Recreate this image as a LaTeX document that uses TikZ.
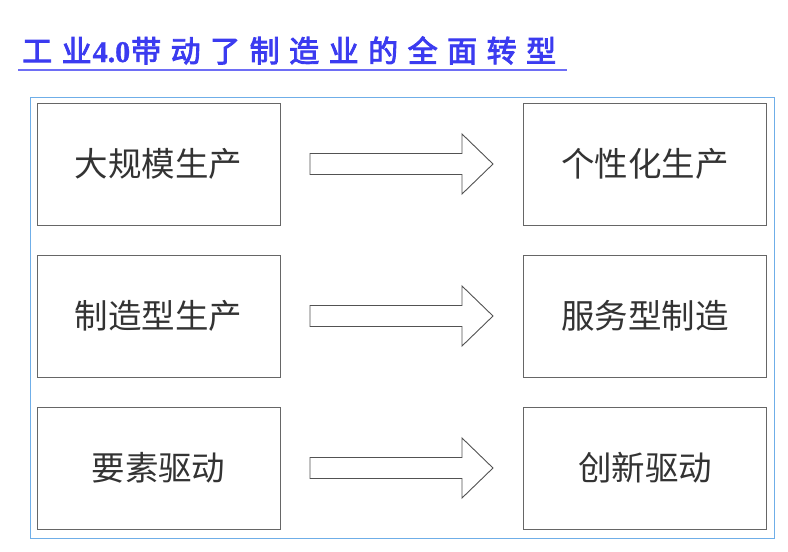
\documentclass[tikz,border=0pt]{standalone}
\usepackage{fontspec}
\newfontfamily\cjk{Noto Sans CJK SC}
\newfontfamily\cjkb[FakeBold=3]{Noto Sans CJK SC}
\newfontfamily\numb[FakeBold=1]{Liberation Serif}
\definecolor{titleblue}{HTML}{3B3BF0}
\definecolor{lineblue}{HTML}{6E6EF5}
\definecolor{frameblue}{HTML}{6FAEE8}
\definecolor{boxgray}{HTML}{666666}
\definecolor{txtgray}{HTML}{333333}
\newcommand{\tg}{\hspace{9.5pt}}
\begin{document}
\begin{tikzpicture}[x=1pt,y=-1pt,
  cbox/.style={draw=boxgray,line width=0.9pt,minimum width=243pt,minimum height=122pt,
    inner sep=0pt,font=\cjk\fontsize{33.5}{34}\selectfont,text=txtgray},
  barrow/.style={draw=boxgray!80!black,line width=0.9pt,fill=white,line join=miter}]
\useasboundingbox (0,0) rectangle (788,552);
\node[font=\cjkb\fontsize{30}{30}\selectfont,text=titleblue,anchor=base west,inner sep=0pt] (title) at (22,62) {工\tg 业\hspace{1pt}{\numb\bfseries 4.0}\hspace{1pt}带\tg 动\tg 了\tg 制\tg 造\tg 业\tg 的\tg 全\tg 面\tg 转\tg 型};
\coordinate (ulA) at (18,70);
\coordinate (ulB) at (567,70);
\draw[lineblue,line width=1.6pt] (ulA) -- (ulB);
\node[draw=frameblue,line width=1pt,minimum width=744pt,minimum height=441pt,inner sep=0pt] (frame) at (402.5,317.5) {};
\foreach \i/\l/\r [count=\k] in {164/大规模生产/个性化生产,316/制造型生产/服务型制造,468/要素驱动/创新驱动}{
  \node[cbox] (L\k) at (158.5,\i) {\l};
  \node[cbox] (R\k) at (645,\i) {\r};
  \draw[barrow] (310,\i-10.5) -- (462,\i-10.5) -- (462,\i-30) -- (493,\i) -- (462,\i+30) -- (462,\i+10.5) -- (310,\i+10.5) -- cycle;
}
\end{tikzpicture}
\end{document}
